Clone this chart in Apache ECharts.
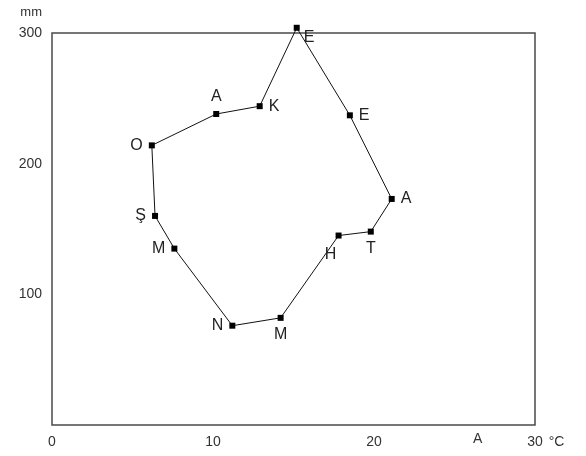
<!DOCTYPE html>
<html>
<head>
<meta charset="utf-8">
<script src="https://cdn.jsdelivr.net/npm/echarts@6/dist/echarts.min.js"></script>
<style>
  html, body { margin: 0; padding: 0; background: #fff; }
  #cn { width: 586px; height: 456px; }
</style>
</head>
<body>
<div id="cn"></div>
<script>
'use strict';

// aylar (Ocak..Aralık), baş harfleri
const MONTHS = ['O', 'Ş', 'M', 'N', 'M', 'H', 'T', 'A', 'E', 'E', 'K', 'A'];
const TEMPS = [6.2, 6.4, 7.6, 11.2, 14.2, 17.8, 19.8, 21.1, 18.5, 15.2, 12.9, 10.2]; // °C
const RAIN = [214, 160, 135, 76, 82, 145, 148, 173, 237, 304, 244, 238]; // mm
const LABEL_SIDE = ['left', 'left', 'left', 'left', 'bottom', 'bottomLeft', 'bottom', 'right', 'right', 'rightBottom', 'right', 'top'];
const X_TICKS = [0, 10, 20, 30];
const Y_TICKS = [100, 200, 300];

const FONT = '"Liberation Sans", Arial, sans-serif';

const sideOpt = side => {
	switch (side) {
		case 'bottomLeft':
			return { position: 'bottom', offset: [-8, 2] };
		case 'rightBottom':
			return { position: 'right', offset: [-2, 10] };
		default:
			return { position: side };
	}
};

let pts = MONTHS.map((m, i) => ({
	value: [TEMPS[i], RAIN[i]],
	label: Object.assign({ show: true, formatter: m }, sideOpt(LABEL_SIDE[i]))
}));
// close the loop back to Ocak
pts.push({ value: [TEMPS[0], RAIN[0]], symbol: 'none', label: { show: false } });

let chart = echarts.init(document.getElementById('cn'));

chart.setOption({
	animation: false,
	grid: {
		left: 52, top: 33, right: 51, bottom: 31,
		show: true, borderColor: '#4a4a4a', borderWidth: 1.5, backgroundColor: 'transparent'
	},
	xAxis: {
		type: 'value', min: 0, max: 30, interval: 10,
		axisLine: { show: false }, axisTick: { show: false }, splitLine: { show: false },
		axisLabel: {
			margin: 10, color: '#333', fontSize: 14, fontFamily: FONT,
			formatter: v => X_TICKS.includes(v) ? String(v) : ''
		},
		name: '°C', nameLocation: 'end', nameGap: 8,
		nameTextStyle: { color: '#333', fontSize: 14, fontFamily: FONT, verticalAlign: 'top', padding: [10, 0, 0, 0] }
	},
	yAxis: {
		type: 'value', min: 0, max: 300, interval: 100,
		axisLine: { show: false }, axisTick: { show: false }, splitLine: { show: false },
		axisLabel: {
			margin: 10, color: '#333', fontSize: 14, fontFamily: FONT,
			formatter: v => Y_TICKS.includes(v) ? String(v) : ''
		},
		name: 'mm', nameLocation: 'end', nameGap: 14,
		nameTextStyle: { color: '#333', fontSize: 13, fontFamily: FONT, align: 'right', padding: [0, 10, 0, 0] }
	},
	graphic: [{
		type: 'text', left: 473, top: 432,
		style: { text: 'A', fill: '#333', font: '14px ' + FONT }
	}],
	series: [{
		type: 'line',
		data: pts,
		clip: false,
		symbol: 'rect',
		symbolSize: 6,
		showAllSymbol: true,
		itemStyle: { color: '#000' },
		lineStyle: { color: '#111', width: 1 },
		label: { color: '#222', fontSize: 16, fontFamily: FONT, distance: 6 }
	}]
});
</script>
</body>
</html>
